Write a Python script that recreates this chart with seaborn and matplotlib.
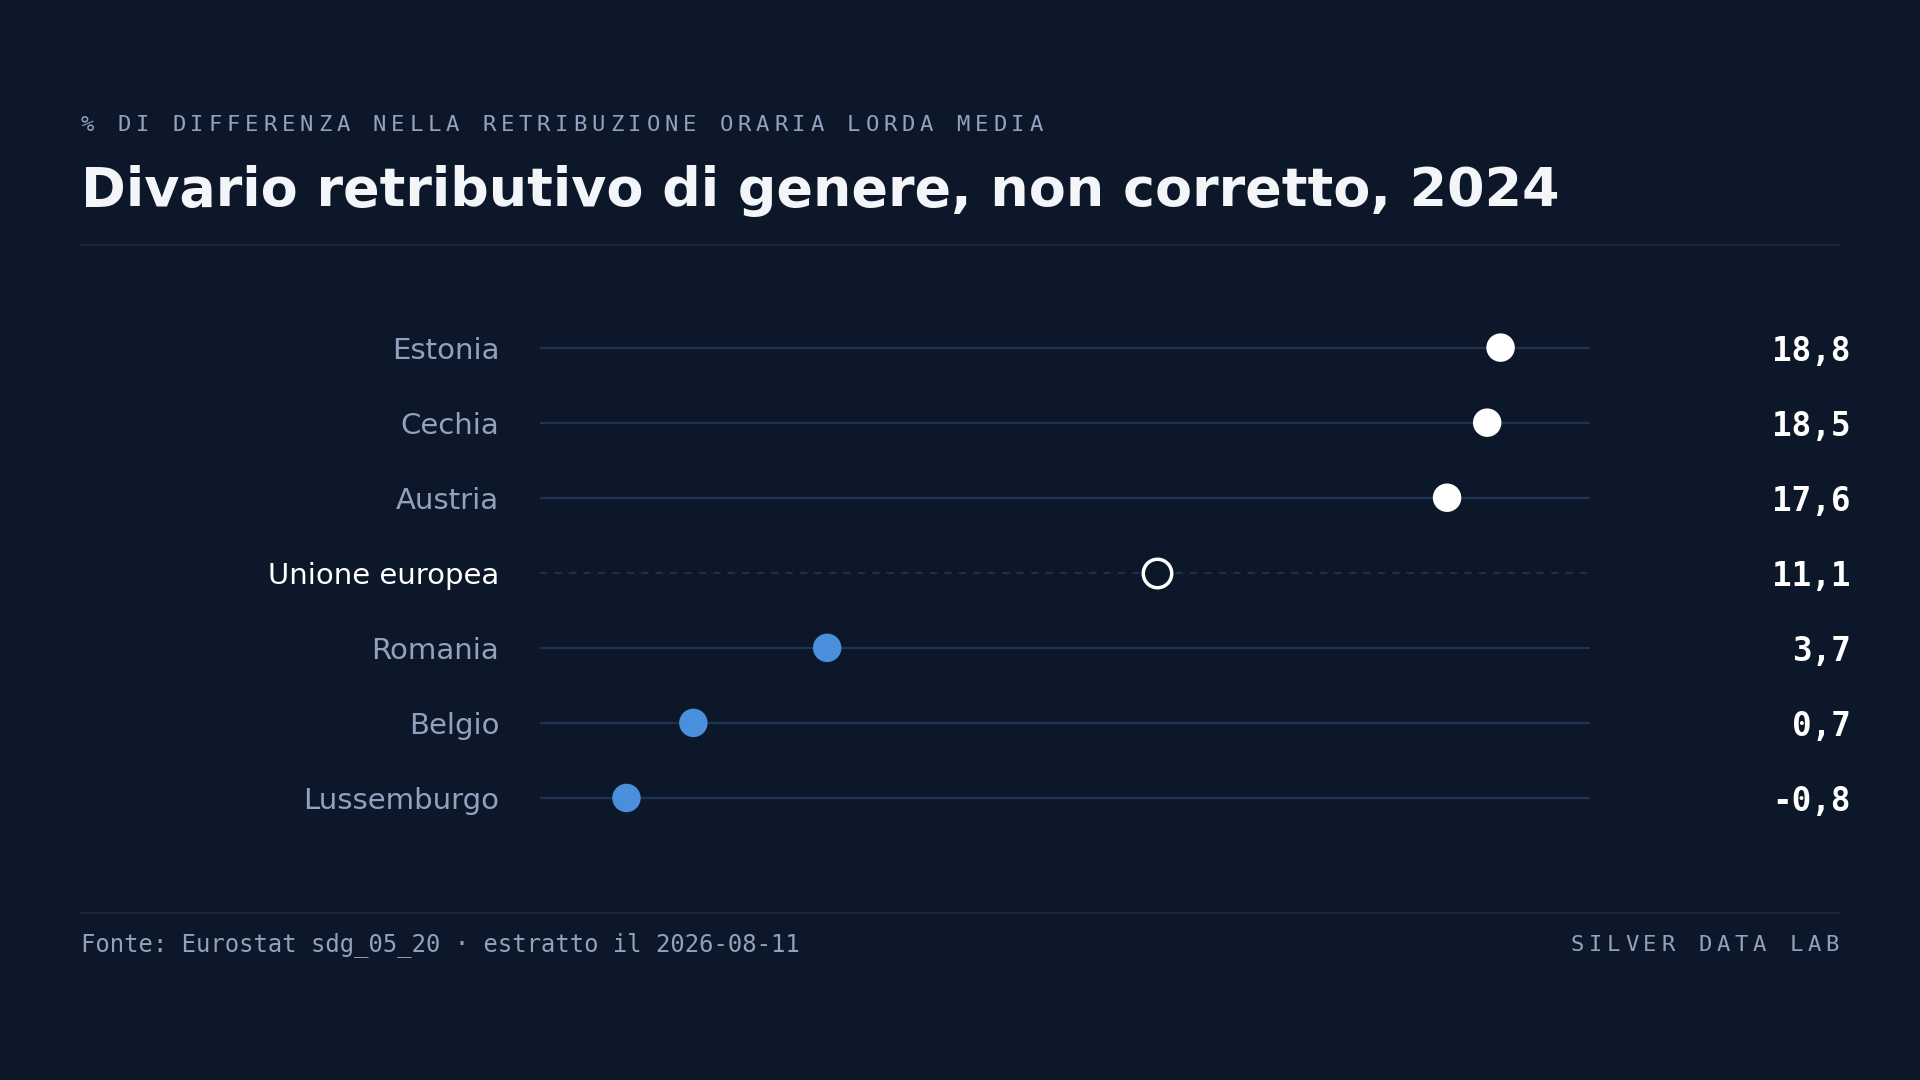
import matplotlib
matplotlib.use("Agg")
import matplotlib.pyplot as plt
import seaborn as sns
import pandas as pd

countries = ["Estonia", "Cechia", "Austria", "Unione europea", "Romania", "Belgio", "Lussemburgo"]
gap = [18.8, 18.5, 17.6, 11.1, 3.7, 0.7, -0.8]
group = ["high", "high", "high", "eu", "low", "low", "low"]

BG = "#0c1829"
GRID = "#1f3350"
MUTED = "#8fa3bf"
BLUE = "#4a8fdb"

df = pd.DataFrame({"country": countries, "gap": gap, "group": group})
df["row"] = range(len(df))

sns.set_theme(style="dark")
plt.rcParams["font.family"] = ["DejaVu Sans"]

fig = plt.figure(figsize=(19.2, 10.8), dpi=100, facecolor=BG)
ax = fig.add_axes([0.281, 0.2264, 0.547, 0.4865], facecolor=BG)

for _, r in df.iterrows():
    if r["group"] == "eu":
        ax.hlines(r["row"], -2.75, 20.8, color=GRID, lw=1.3, ls=(0, (4, 4)), zorder=1)
    else:
        ax.hlines(r["row"], -2.75, 20.8, color=GRID, lw=1.6, zorder=1)

solid = df[df["group"] != "eu"]
sns.scatterplot(data=solid, x="gap", y="row", hue="group",
                palette={"high": "white", "low": BLUE}, s=420, edgecolor="none",
                legend=False, ax=ax, zorder=3)
eu = df[df["group"] == "eu"]
ax.scatter(eu["gap"], eu["row"], s=420, facecolor=BG, edgecolor="white", linewidth=2.5, zorder=3)

ax.set_xlim(-2.75, 20.8)
ax.set_ylim(6.5, -0.5)
ax.set_yticks(df["row"])
ax.set_yticklabels(df["country"])
for lab, g in zip(ax.get_yticklabels(), df["group"]):
    lab.set_color("white" if g == "eu" else MUTED)
    lab.set_fontsize(21)
ax.tick_params(axis="y", length=0, pad=29)
ax.set_xticks([])
ax.set_xlabel("")
ax.set_ylabel("")
for s in ax.spines.values():
    s.set_visible(False)
ax.grid(False)

for _, r in df.iterrows():
    txt = f"{r['gap']:.1f}".replace(".", ",")
    ax.text(1.0 + (1511 - 1298) / 1568 / 0.547, r["row"], txt,
            transform=ax.get_yaxis_transform(), ha="right", va="center_baseline",
            fontsize=23.5, fontweight="bold", color="white", family="DejaVu Sans Mono")

STEP = 14.9 / 1568


def spaced(x, y, s, size, color):
    # place characters one by one to get the wide letter spacing
    for i, ch in enumerate(s):
        fig.text(x + i * STEP, y, ch, fontsize=size, color=color,
                 family="DejaVu Sans Mono", ha="left", va="baseline")


spaced(66 / 1568, 1 - 107 / 882, "% DI DIFFERENZA NELLA RETRIBUZIONE ORARIA LORDA MEDIA", 16, MUTED)
fig.text(66 / 1568, 1 - 168 / 882, "Divario retributivo di genere, non corretto, 2024",
         fontsize=38.8, fontweight="bold", color="#f3f5f8", va="baseline")

fig.add_artist(plt.Line2D([66 / 1568, 1502 / 1568], [1 - 200 / 882] * 2, color="#1a2a40", lw=1.2))
fig.add_artist(plt.Line2D([66 / 1568, 1502 / 1568], [1 - 746 / 882] * 2, color="#1a2a40", lw=1.2))

fig.text(66 / 1568, 1 - 777 / 882, "Fonte: Eurostat sdg_05_20 · estratto il 2026-08-11",
         fontsize=17.2, color=MUTED, family="DejaVu Sans Mono", va="baseline")
lab = "SILVER DATA LAB"
spaced(1491 / 1568 - STEP * (len(lab) - 1), 1 - 777 / 882, lab, 16, MUTED)

fig.savefig("out.png", dpi=100, facecolor=BG)
